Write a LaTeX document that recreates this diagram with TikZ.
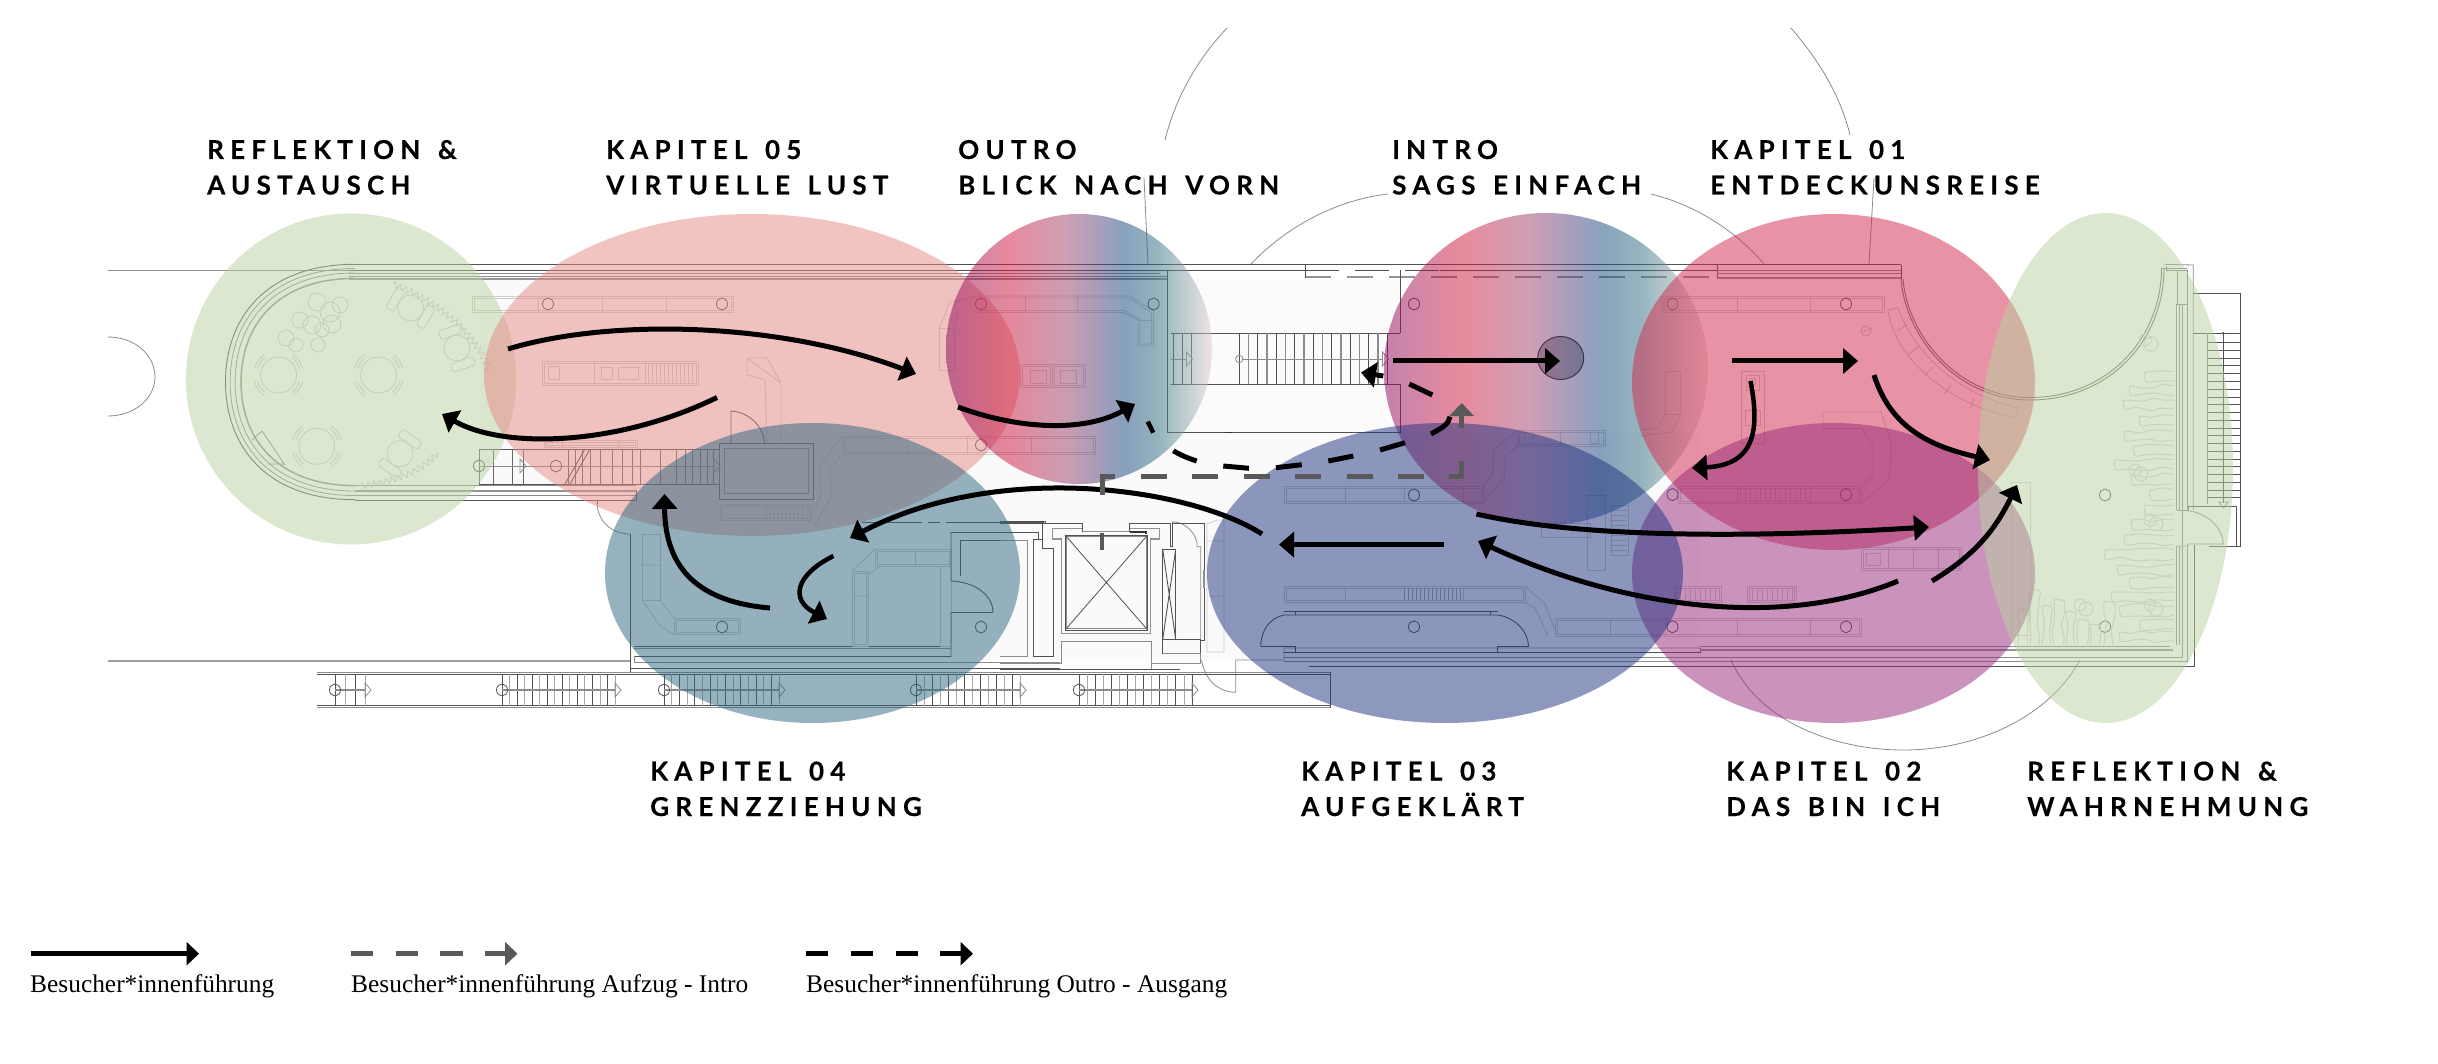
\documentclass[tikz,border=0pt]{standalone}
\usepackage{fontspec}
\usetikzlibrary{arrows.meta,decorations.pathmorphing,decorations.pathreplacing,calc}
\setmainfont{Liberation Serif}
\newfontfamily\ttlfont[LetterSpace=24,WordSpace=1.4,BoldFont={Lato Bold},BoldFeatures={FakeBold=0.4}]{Lato}
\definecolor{gA}{RGB}{185,209,159}
\definecolor{pA}{RGB}{229,137,133}
\definecolor{tA}{RGB}{45,103,127}
\definecolor{bA}{RGB}{31,51,129}
\definecolor{mA}{RGB}{151,41,123}
\definecolor{rA}{RGB}{211,41,77}
\definecolor{dashgray}{HTML}{595959}
\definecolor{pB0}{HTML}{8B075D}
\definecolor{pB1}{HTML}{D1173D}
\definecolor{pB2}{HTML}{9F416D}
\definecolor{pB3}{HTML}{41417F}
\definecolor{pB4}{HTML}{15477F}
\definecolor{pB5}{HTML}{2D6B7F}
\definecolor{pB6}{HTML}{77999F}
\definecolor{pB7}{HTML}{E5C9C9}
\pgfdeclarehorizontalshading{intrograd}{100bp}{
 color(0bp)=(pB0); color(25bp)=(pB0); color(36.7bp)=(pB1); color(47.5bp)=(pB2); color(55.2bp)=(pB3);
 color(58.3bp)=(pB4); color(64.5bp)=(pB5); color(69.1bp)=(pB6); color(75bp)=(pB7); color(100bp)=(pB7)}
\tikzset{
 pl/.style={draw=black!68,line width=0.9pt},
 plf/.style={draw=black!45,line width=0.8pt},
 plt/.style={draw=black!42,line width=1.5pt},
 bench/.style={draw=black!19,line width=0.9pt},
 seat/.style={draw=black!18,line width=0.9pt},
 plant/.style={draw=black!16,line width=1pt},
 zone/.style={fill opacity=.5},
 walk/.style={line width=5pt,draw=black,-{Triangle[length=15pt,width=25pt]}},
 walkp/.style={line width=5pt,draw=black},
 grayd/.style={line width=5pt,draw=dashgray},
 ttl/.style={anchor=base west,align=left,font=\ttlfont\bfseries\fontsize{26}{35.5}\selectfont,text=black,inner sep=0pt},
 leg/.style={anchor=base west,font=\fontsize{25.4}{30}\selectfont,inner sep=0pt}
}
\newcommand\bnch[4]{\draw[bench] (#1,#2) rectangle (#3,#4); \draw[bench] ({#1+2},{#2+2}) rectangle ({#3-2},{#4-2});}
\newcommand\colm[2]{\draw[pl,line width=0.8pt] (#1,#2) ellipse (5.5 and 6);}
\newcommand\stairtri[2]{\draw[plf] (#1,{#2-7}) -- ({#1+6},#2) -- (#1,{#2+7}) -- cycle;}
\begin{document}
\begin{tikzpicture}[x=1pt,y=-1pt]
\useasboundingbox (0,0) rectangle (2438,1064);
\fill[white] (0,0) rectangle (2438,1064);
% ---- floor tint
\fill[black!2] (480,279) rectangle (1167,486) (1000,486) rectangle (1240,660) (630,486) rectangle (1000,660) (1167,433) rectangle (1700,660);
\fill[cyan!1!black!2] (1167,279) rectangle (1400,433);
% ---- construction arcs
\draw[plf] (1227,28) .. controls (1195,62) and (1175,100) .. (1165,140);
\draw[plf] (1144,178) -- (1148,264);
\draw[plf] (1251,264) .. controls (1285,228) and (1335,200) .. (1388,194);
\draw[plf] (1651,194) .. controls (1695,205) and (1735,230) .. (1764,264);
\draw[plf] (1791,28) .. controls (1820,62) and (1840,95) .. (1850,135);
\draw[plf] (1874,178) -- (1869,264);
\draw[plf] (1731,660) .. controls (1760,725) and (1840,750) .. (1903,750) .. controls (1980,750) and (2050,715) .. (2080,660);
\draw[plf] (108,337) .. controls (135,337) and (155,355) .. (155,377) .. controls (155,398) and (135,416) .. (108,416);
% ---- long outer lines
\draw[plf] (108,270) -- (349,270);
\draw[draw=black!38,line width=2pt] (108,660.7) -- (630,660.7);
\draw[pl] (349,264.6) -- (1901,264.6);
\draw[pl] (349,270) -- (1305,270);
\draw[plf] (349,273) -- (1160,273);
\draw[plf] (349,276) -- (1167,276);
\draw[plt] (349,279) -- (1167,279);
\draw[pl,dash pattern=on 34pt off 16pt] (1305,270) -- (1440,270);
\draw[plt,dash pattern=on 26pt off 16pt] (1305,277) -- (1717,277);
\draw[pl] (1440,270) -- (1717,270);
\draw[pl] (1305,264.6) -- (1305,278) (1717.6,264.6) -- (1717.6,278);
\draw[plf] (1717,270) -- (1901,270) (1717,273.5) -- (1901,273.5);
\draw[plt] (1717,278) -- (1901,278);
\draw[pl] (1901,264.6) -- (1901,279);
% ---- rounded left end
\foreach \r/\s in {117.7/pl,113.5/plf,109/plf,103.6/plt}{
 \draw[\s] (355,{382-\r}) .. controls ({355-0.75*\r},{382-\r}) and ({355-1.1*\r},{382-0.55*\r}) .. ({355-1.1*\r},382) .. controls ({355-1.1*\r},{382+0.55*\r}) and ({355-0.75*\r},{382+\r}) .. (355,{382+\r});
}
\draw[plf] (252,440) -- (262,431) (262,431) -- (285,465) (268,464) -- (285,464);
\draw[plf] (355,485.7) -- (636,485.7);
\draw[plt] (355,491) -- (636,491);
\draw[plf] (355,495.7) -- (636,495.7);
\draw[pl] (355,500) -- (636,500) -- (636,490);
% ---- seating in the round room
\foreach \x/\y in {278.6/375,378.7/375,316.8/446.4}{
 \draw[seat] (\x,\y) circle (18);
 \foreach \a in {35,145,215,325}{
  \draw[seat] ($(\x,\y)+(\a-20:25)$) arc[start angle=\a-20,end angle=\a+20,radius=25];
  \draw[seat] ($(\x,\y)+(\a-18:22)$) arc[start angle=\a-18,end angle=\a+18,radius=22];
 }
}
\foreach \x/\y/\a in {410.6/308/-30,457/348/-70,400/453.6/55}{
 \begin{scope}[shift={(\x,\y)},rotate=\a]
 \draw[seat] (0,0) circle (13);
 \draw[seat,rounded corners=3] (-22,-12) rectangle (-13,12);
 \draw[seat,rounded corners=3] (13,-12) rectangle (22,12);
 \end{scope}
}
\foreach \x/\y/\r in {317/302/9,330/312/10,312/325/9,300/320/8,322/330/7,332/324/9,340/305/8,286/338/8,296/345/7,318/345/7}{
 \draw[seat] (\x,\y) circle (\r);
}
\draw[seat,decorate,decoration={zigzag,segment length=6,amplitude=3}] (393,284) .. controls (435,300) and (475,330) .. (489,371);
\draw[seat,decorate,decoration={zigzag,segment length=6,amplitude=3}] (361,486) .. controls (395,482) and (425,470) .. (438,452);
% ---- benches
\bnch{472}{296}{733}{312.5}
\foreach \x in {538,602.5,666}{\draw[bench] (\x,296) -- (\x,312.5);}
\colm{548}{304}\colm{722}{304}
% kitchen 05
\bnch{542.6}{361}{698}{385}
\draw[bench] (594,361) -- (594,385) (645,361) -- (645,385);
\foreach \x in {648,652,656,660,664,668,672,676,680,684,688,692}{\draw[bench,line width=.7pt] (\x,364) -- (\x,383);}
\draw[bench] (601,367) rectangle (612,379) (618,367) rectangle (638,379) (548,366) rectangle (559,379);
% bent bench 05
\draw[bench] (747,358) -- (781,383) -- (781,443) (747,358) -- (747,375) -- (765,380) -- (767,443) (747,358) -- (767,358) -- (781,383);
% door and room
\draw[pl] (719,443) rectangle (813,499);
\draw[plf] (724,448) rectangle (808,493.5);
\draw[pl] (731,443) -- (731,411) .. controls (750,412) and (764,428) .. (764.5,443);
\bnch{544.5}{440}{637}{447}
\draw[bench] (562,440) -- (562,447) (618,440) -- (618,447);
\draw[pl] (479,449) -- (719,449) (479,484.6) -- (719,484.6);
\foreach \x in {479,493,512,523,568,575,582,590,600,612,622,632,640,660,676,685,692,700,707,713,719}{\draw[plf,draw=black!60] (\x,449) -- (\x,484.6);}
\draw[plf] (479,466) -- (715,466);
\colm{479}{466}\colm{556}{466}
\stairtri{520}{466}\stairtri{714}{466}
\draw[pl] (565,484) -- (585,449);
\draw[pl] (570,484) -- (590,449);
% door arc
\draw[plf] (597,503.6) .. controls (598,520) and (610,534) .. (630.6,534);
\draw[pl] (597,500) -- (597,504);
\draw[pl] (630.6,534) -- (630.6,672);
\draw[pl] (630.6,668.6) -- (1060,668.6);
\draw[pl] (634,646) -- (951,646) (634,656) -- (951,656);
\draw[plf,line width=1.4pt] (634,648.5) -- (951,648.5);
\draw[plf] (634,656) -- (634,662.5) -- (1060,662.5);
% bench going to the right
\bnch{843}{436}{1095}{454}
\foreach \x in {907,967,1031}{\draw[bench] (\x,436) -- (\x,454);}
\draw[bench] (843,436) -- (820,465) -- (821,495) -- (807,525) (843,454) -- (830,468) -- (831,497) -- (815,525);
\bnch{720}{504.6}{811}{520}
\foreach \x in {766,770,774,778,782,786,790,794,798,802}{\draw[bench,line width=.7pt] (\x,506) -- (\x,518);}
\colm{981}{445}
% teal zone benches
\draw[bench] (642,534.6) rectangle (660,600);
\draw[bench] (642,600) -- (660,626) -- (674,634.6) (660,600) -- (674,618) (642,565) -- (660,565);
\bnch{674}{618}{740}{634.6}
\colm{722}{627}
\bnch{852}{571}{868}{646}
\draw[bench] (852,571) -- (875,549) (868,575) -- (880,566) (852,596) -- (868,596);
\bnch{875}{549}{951}{566}
\draw[bench] (915,549) -- (915,566);
\draw[bench] (940,566) rectangle (951,646);
% wall and door
\draw[pl,line width=1pt] (951,532) -- (1038,532) -- (1038,540);
\draw[pl] (951,532) -- (951,581) .. controls (975,582) and (993,595) .. (993,612.5) -- (951,612.5) -- (951,657);
\draw[pl] (960,540) -- (960,576);
\draw[pl] (960,540) -- (1027,540);
\colm{981}{627}
\draw[plf] (1010,540) -- (1027,540) -- (1027,656);
\draw[pl,dash pattern=on 60pt off 6pt on 12pt off 6pt on 20pt off 6pt] (862,522) -- (960,522);
\draw[pl] (960,522) -- (1044,522);
% elevator group
\draw[pl] (1000,521.7) -- (1045.6,521.7) -- (1045.6,524) (1000,523.3) -- (1042.7,523.3) -- (1042.7,548.3) -- (1053.3,548.3) -- (1053.3,656.7) -- (1033.3,656.7) -- (1033.3,539.3) -- (1042.7,539.3);
\draw[plf] (1000,540.7) -- (1027.3,540.7) -- (1027.3,656.7) -- (1000,656.7);
\draw[plf] (1000,663.3) -- (1061.7,663.3) -- (1061.7,641.7) -- (1151,641.7) -- (1151,669.3);
\draw[plt] (1052.7,528.3) -- (1082.7,528.3) -- (1082.7,531.7) -- (1129.7,531.7) -- (1129.7,528.3) -- (1159.3,528.3) -- (1159.3,539) -- (1150.7,539) -- (1150.7,633.3) -- (1061.7,633.3) -- (1061.7,539) -- (1052.7,539) -- cycle;
\draw[pl] (1065,535) rectangle (1147.7,630);
\draw[plf] (1066.7,536.7) rectangle (1146,628.3);
\draw[pl,line width=.8pt] (1065,535) -- (1147.7,630) (1147.7,535) -- (1065,630);
\draw[dashgray,line width=4.5pt] (1102,533) -- (1102,550);
\draw[pl] (1042.7,523.3) -- (1082.7,523.3) -- (1082.7,531.7) (1129.7,531.7) -- (1129.7,523.3) -- (1170,523.3) -- (1170,546.7) -- (1172.7,546.7) -- (1172.7,521.7);
\draw[black!80,line width=2pt] (1129.7,531.7) -- (1146,531.7) -- (1146,534);
\draw[plf] (1172.7,521.7) .. controls (1187,522) and (1196,535) .. (1197,543.3) -- (1197,546.7) -- (1200.7,546.7) -- (1200.7,639.3);
\draw[pl] (1172.7,523.3) -- (1204,523.3) -- (1204,640) -- (1200,640);
\draw[plf,line width=1.5pt] (1204,570) -- (1204,588);
\draw[pl] (1162.7,639.3) rectangle (1175.7,549.3);
\draw[pl] (1162.7,549.3) -- (1175.7,639.3) (1175.7,549.3) -- (1162.7,639.3);
\draw[pl] (1162.7,639.3) -- (1200,639.3) -- (1200,653.3) -- (1162.7,653.3) -- (1162.7,639.3);
\draw[plf] (1162.7,653.3) -- (1200.7,653.3) -- (1200.7,663.3) -- (1151,663.3);
\draw[pl,dash pattern=on 210pt off 24pt on 24pt off 10pt on 50pt off 22pt on 55pt] (1000,669.3) -- (1180,669.3);
\draw[plf] (1201.5,660) .. controls (1205,680) and (1218,692) .. (1235.7,692.3) -- (1235.7,660) -- (1284,660) -- (1284,648) -- (1700,648);
\draw[bench] (1207,524) -- (1217,520) -- (1224,520) -- (1224,652) -- (1207,652) -- cycle (1207,541) -- (1224,541) (1207,596) -- (1224,596);
% lower stairs
\draw[plf,draw=black!45] (317,672) -- (1330,672);
\draw[pl] (317,674) -- (1330,674);
\draw[pl] (317,705.7) -- (1330,705.7);
\draw[plf] (317,707.5) -- (1330,707.5);
\draw[pl] (1330,672) -- (1330,707.5);
\foreach \a/\b/\n in {335/365/3,502/615/15,664/779/15,916/1020/13,1079/1192/14}{
 \pgfmathsetmacro{\st}{(\b-\a)/\n}
 \foreach \i in {0,...,\n}{
  \pgfmathsetmacro{\xx}{\a+\i*\st}
  \pgfmathparse{int(mod(\i,2))}
  \ifnum\pgfmathresult=0 \draw[pl] (\xx,674) -- (\xx,705.7);\else \draw[plf,draw=black!35] (\xx,674) -- (\xx,705.7);\fi
 }
 \draw[plf,line width=1.2pt] (\a,690) -- (\b,690);
 \stairtri{\b}{690}
 \colm{\a}{690}
}
% outro zone
\draw[bench] (939,328.6) rectangle (954.6,370);
\draw[bench] (939,328.6) -- (950,302) -- (980,296) (954.6,328.6) -- (958,312) -- (980,312);
\draw[bench] (980,296) -- (1130,296) -- (1153.6,311) -- (1153.6,346) -- (1138,346) -- (1138,320) -- (1123,312.5) -- (980,312.5) -- cycle;
\draw[bench] (982,298) -- (1129,298) -- (1151.6,313) -- (1151.6,344) -- (1140,344) -- (1140,319) -- (1124,310.5) -- (982,310.5) -- cycle;
\foreach \x in {1025,1077}{\draw[bench] (\x,296) -- (\x,312.5);}
\draw[bench] (1138,320) -- (1153.6,320);
\colm{981}{304}\colm{1153.6}{304}
\bnch{1020}{364}{1052}{387.5}
\bnch{1052}{364}{1085}{387.5}
\draw[bench] (1030,370) rectangle (1046,383) (1060,370) rectangle (1076,383);
% central stair room
\draw[pl] (1167.3,270) -- (1167.3,432.7) -- (1400.7,432.7) -- (1400.7,384.3);
\draw[pl] (1400.7,270) -- (1400.7,333.3);
\draw[plt,draw=black!80] (1225,432.7) -- (1232,432.7);
\draw[pl] (1170.7,333.3) -- (1400,333.3) (1170.7,384.3) -- (1400,384.3);
\draw[pl] (1387,333.3) -- (1387,384.3);
\foreach \x in {1173.3,1182.3,1191.7,1239.3}{\draw[pl] (\x,333.3) -- (\x,384.3);}
\foreach \i in {1,...,15}{
 \pgfmathsetmacro{\xx}{1239.3+\i*9.25}
 \pgfmathparse{int(mod(\i,2))}
 \ifnum\pgfmathresult=1 \draw[plf,line width=1.2pt] (\xx,333.3) -- (\xx,384.3);\else \draw[pl] (\xx,333.3) -- (\xx,384.3);\fi
}
\draw[plf] (1170.7,359) -- (1186,359) (1242,359) -- (1383,359);
\stairtri{1186.5}{359}\stairtri{1382.5}{359}
\draw[plf] (1239.3,359) circle (3.7);
\colm{1414}{304}
% intro stage disc
\draw[fill=black!33,draw=black!85,line width=1pt] (1560.7,358) ellipse (23 and 21.5);
% K01 benches
\bnch{1662.5}{296}{1884}{312.5}
\foreach \x in {1737.5,1810}{\draw[bench] (\x,296) -- (\x,312.5);}
\colm{1672.5}{304}\colm{1846}{304}
\draw[bench] (1888,310) -- (1898,308) .. controls (1915,355) and (1960,395) .. (2018,408) -- (2015,418) .. controls (1950,405) and (1895,360) .. (1888,310);
\foreach \a/\b/\c/\d in {1897/331/1907/325,1909/354/1919/346,1925/375/1933/367,1945/394/1951/385,1970/408/1974/398,1994/413/1996/403}{\draw[bench] (\a,\b) -- (\c,\d);}
\draw[bench] (1866,331) circle (5);
\draw[bench] (1860,332) -- (1873,328);
\draw[pl,draw=black!55] (1901,279) .. controls (1905,335) and (1955,400) .. (2030,400) .. controls (2110,400) and (2164,340) .. (2164,268);
\draw[pl,draw=black!55] (1903,279) .. controls (1907,333) and (1956,397.5) .. (2030,397.5) .. controls (2108,397.5) and (2161.5,338) .. (2161.5,268);
% inner benches mid
\draw[bench] (1665,371) rectangle (1680,414);
\draw[bench] (1680,414) -- (1672,432) -- (1640,436) (1665,414) -- (1658,428) -- (1640,430);
\draw[bench] (1741,371) rectangle (1764,443) (1746,375) rectangle (1759,390) (1745,410) rectangle (1760,425) (1750,378) rectangle (1755,384);
\bnch{1517}{430}{1605}{446.5}
\draw[bench] (1525,430) rectangle (1533,443) (1590,432) rectangle (1598,443) (1560,430) -- (1560,446.5);
\draw[bench] (1517,430) -- (1494,450) -- (1492,475) -- (1483,486.4) (1517,446.5) -- (1506,455) -- (1504,478) -- (1483,503.6);
\bnch{1284}{486.4}{1483}{503.6}
\foreach \x in {1345,1404,1463}{\draw[bench] (\x,486.4) -- (\x,503.6);}
\colm{1414}{495}
\draw[bench] (1587.5,495.7) rectangle (1605,570);
\draw[bench] (1611,505) rectangle (1628,555);
\foreach \y in {510,515,520,525,530,535,540,545,550}{\draw[bench,line width=.7pt] (1612,\y) -- (1627,\y);}
\draw[bench] (1541.6,523) rectangle (1590,537.5);
% K02 benches
\bnch{1678}{486.4}{1861}{503.6}
\foreach \x in {1737.5,1810}{\draw[bench] (\x,486.4) -- (\x,503.6);}
\foreach \x in {1740,1745,1750,1755,1760,1765,1770,1775,1780,1785,1790,1795,1800,1805}{\draw[bench,line width=.7pt] (\x,488) -- (\x,502);}
\colm{1672.5}{494.6}\colm{1846}{494.6}
\draw[bench] (1861,503.6) -- (1889,480) -- (1892,446) -- (1881,412) -- (1862,412) -- (1823,412) -- (1823,428.6) -- (1862,428.6) -- (1873,446) -- (1873,475) -- (1861,487);
\bnch{1861.5}{547}{1961}{570}
\foreach \x in {1888,1913,1938}{\draw[bench] (\x,547) -- (\x,570);}
\draw[bench] (1866,553) rectangle (1880,565);
\bnch{1674}{586}{1721}{602}
\bnch{1747}{586}{1796}{602}
\foreach \x in {1680,1685,...,1716,1752,1757,...,1792}{\draw[bench,line width=.7pt] (\x,588) -- (\x,600);}
% K03 lower
\bnch{1284}{586}{1525}{602.5}
\foreach \x in {1345,1404,1463}{\draw[bench] (\x,586) -- (\x,602.5);}
\foreach \x in {1404,1408,...,1462}{\draw[bench,line width=.9pt,draw=black!32] (\x,588) -- (\x,600);}
\draw[bench] (1525,586) -- (1545,604) -- (1555,630) (1525,602.5) -- (1535,608) -- (1548,636);
\bnch{1555}{618.6}{1861.5}{636.4}
\foreach \x in {1610,1665,1737.5,1810}{\draw[bench] (\x,618.6) -- (\x,636.4);}
\colm{1672.5}{626.8}\colm{1846}{626.8}
\draw[pl] (1260.7,646.4) .. controls (1261,630) and (1270,618) .. (1283.7,615) -- (1498,615) .. controls (1516,618) and (1528,632) .. (1528.6,646.4);
\draw[pl] (1284,611.5) -- (1498,611.5) (1295,611.5) -- (1295,615) (1490,611.5) -- (1490,615);
\draw[pl] (1260.7,646.4) -- (1295,646.4) -- (1295,652) (1528.6,646.4) -- (1497,646.4) -- (1497,652);
\colm{1414}{626.8}
% bottom long lines
\draw[pl] (1284,652) -- (1700,652) -- (1700,647.5);
\draw[plf] (1700,646.8) -- (2170,646.8);
\draw[plt] (1700,650) -- (2173,650);
\draw[plf] (1284,657) -- (2182,657) -- (2182,500);
\draw[plf] (1284,661) -- (2187,661) -- (2187,545);
\draw[pl] (1309,666.7) -- (2194,666.7) -- (2194,545);
% ---- right end
\draw[plf] (2164,264.3) -- (2193.3,265) -- (2193.3,510);
\draw[plf] (2162,268) -- (2187,268) (2166,266) -- (2166,270) -- (2187,270);
\draw[plf] (2177.7,270) rectangle (2187.3,304);
\draw[plf,line width=1.2pt] (2176.7,304) -- (2176.7,510);
\draw[plf] (2179,304) -- (2179,510) (2182.7,304) -- (2182.7,510) (2187,304) -- (2187,510);
\draw[pl] (2193.3,293.3) -- (2240.7,293.3) -- (2240.7,546) -- (2209,546);
\draw[pl] (2193.3,333.3) -- (2240.7,333.3);
\draw[plf] (2207.3,333.3) -- (2207.3,504);
\foreach \i in {0,...,20}{\draw[pl] ({2207.3},{342.7+\i*7.75}) -- (2240.7,{342.7+\i*7.75});}
\draw[pl] (2223.3,333.3) -- (2223.3,503);
\fill[black!70] (2223.3,333.3) circle (1.4);
\draw[plf] (2219,502) -- (2228,502) -- (2223.5,508) -- cycle;
\draw[pl] (2188,506) -- (2236.7,506) -- (2236.7,546);
\draw[plf] (2186.7,510.7) .. controls (2207,512) and (2223,528) .. (2223.3,544) -- (2188,544) -- (2188,546) -- (2176.7,546);
\draw[plf] (2176.7,510) -- (2188,510) -- (2188,506);
\draw[plf] (2176.7,546) -- (2176.7,645) (2179,546) -- (2179,645) (2182,546) -- (2182,655) (2187,546) -- (2187,660);
\colm{2105}{495}\colm{2105}{626.7}
% planting
\pgfmathsetseed{42}
\foreach \y/\x in {372/2145,386/2130,400/2124,416/2140,431/2125,446/2134,460/2115,475/2132,490/2150,505/2145,520/2132,535/2125,550/2105,565/2118,578/2130,592/2112,606/2120,620/2140,632/2120}{
 \draw[plant,decorate,decoration={random steps,segment length=11,amplitude=2.5},rounded corners=3pt] (2174,\y) -- (\x,\y) -- (\x,{\y+9}) -- (2174,{\y+9});
}
\foreach \x/\y in {2018/610,2030/590,2042/606,2054/600,2066/612,2078/620,2090/625,2104/602}{
 \draw[plant,decorate,decoration={random steps,segment length=11,amplitude=2.5},rounded corners=3pt] (\x,645) -- (\x,\y) -- ({\x+9},\y) -- ({\x+9},645);
}
\foreach \x/\y in {2145/340,2135/470,2150/520,2080/605,2150/605}{\draw[plant] (\x,\y) circle (6) ({\x+6},{\y+4}) circle (7);}
\draw[bench,draw=black!16] (2011,482) rectangle (2030,635);
% ---- colour zones
\fill[gA,zone] (351,379) ellipse (165 and 165.5);
\fill[pA,zone] (752,375) ellipse (268 and 161);
\shade[shading=intrograd,zone] (1079,349) ellipse (133 and 135);
\fill[tA,zone] (812.5,573) ellipse (207.5 and 150);
\shade[shading=intrograd,zone] (1546,369) ellipse (162 and 156);
\fill[rA,zone] (1833.5,382) ellipse (201.5 and 168);
\fill[mA,zone] (1833.5,573) ellipse (201.5 and 150);
\fill[bA,zone] (1445,573) ellipse (238 and 150);
\fill[gA,zone] (2105.5,468) ellipse (127.5 and 255);
% ---- visitor routes
\coordinate (a1s) at (508,349);\coordinate (a1e) at (916,374);
\draw[walk] (a1s) .. controls (610,318) and (780,322) .. (a1e);
\coordinate (a2s) at (717,397.5);\coordinate (a2e) at (442,414);
\draw[walk] (a2s) .. controls (620,445) and (505,450) .. (a2e);
\coordinate (a3s) at (958,407);\coordinate (a3e) at (1135,404);
\draw[walk] (a3s) .. controls (1020,430) and (1085,432) .. (a3e);
\coordinate (a4s) at (1262,534);\coordinate (a4e) at (850,538);
\draw[walk] (a4s) .. controls (1190,488) and (1000,460) .. (a4e);
\coordinate (a5s) at (770,608);\coordinate (a5e) at (664.5,494);
\draw[walk] (a5s) .. controls (700,602) and (665,570) .. (a5e);
\coordinate (a6s) at (833.4,556);\coordinate (a6e) at (827,619);
\draw[walk,line width=4.5pt] (a6s) .. controls (795,575) and (790,600) .. (a6e);
\coordinate (a7s) at (1444,544.6);\coordinate (a7e) at (1279,544.6);
\draw[walk] (a7s) -- (a7e);
\coordinate (a8s) at (1393,361);\coordinate (a8e) at (1560,361);
\draw[walk] (a8s) -- (a8e);
\coordinate (a9s) at (1732,361);\coordinate (a9e) at (1858,361);
\draw[walk] (a9s) -- (a9e);
\coordinate (a10s) at (1750.5,381);\coordinate (a10e) at (1692,468);
\draw[walk,line width=4.5pt] (a10s) .. controls (1760,430) and (1755,465) .. (a10e);
\coordinate (a11s) at (1874,375);\coordinate (a11e) at (1990,460);
\draw[walk] (a11s) .. controls (1890,425) and (1925,445) .. (a11e);
\coordinate (a12s) at (1476.5,514);\coordinate (a12e) at (1929,527);
\draw[walk] (a12s) .. controls (1580,538) and (1750,538) .. (a12e);
\coordinate (a13s) at (1898,581);\coordinate (a13e) at (1478,541);
\draw[walk] (a13s) .. controls (1780,630) and (1620,607) .. (a13e);
\coordinate (a14s) at (1932,581);\coordinate (a14e) at (2017,485);
\draw[walk] (a14s) .. controls (1975,555) and (1995,530) .. (a14e);
% lift route (grey dashed)
\coordinate (g0) at (1102,495);\coordinate (g1) at (1102,476.7);\coordinate (g1b) at (1115,476.7);\coordinate (g3) at (1461.7,461);\coordinate (g4) at (1461.7,403);
\draw[grayd] (g0) -- (g1) -- (g1b);
\draw[grayd,dash pattern=on 26pt off 25.5pt] (1140.7,476.7) -- (1461.7,476.7);
\draw[grayd] (1449.3,476.7) -- (1461.7,476.7) -- (g3);
\draw[grayd,-{Triangle[length=13pt,width=24pt]}] (1461.7,428) -- (g4);
% outro route (black dashed)
\draw[walkp,line width=4.5pt] (1147.7,421.7) -- (1153.3,432.7);
\draw[walkp] (1173.3,450.7) .. controls (1180,455) and (1190,459) .. (1196.7,461);
\draw[walkp] (1223.3,466) -- (1249,468.3);
\draw[walkp] (1276,467.7) -- (1301.7,464.7);
\draw[walkp] (1328.3,461) -- (1353.3,456);
\draw[walkp] (1380,450) -- (1405,442.7);
\draw[walkp] (1431,434) .. controls (1442,428) and (1449,424) .. (1450,416.7);
\draw[walkp] (1409.3,384) -- (1432.3,395);
\coordinate (o1) at (1383.3,376);\coordinate (o2) at (1361,372.5);
\draw[walk] (o1) -- (o2);
% ---- titles
\node[ttl] (t1) at (207,194.5) {REFLEKTION \&\\AUSTAUSCH};
\node[ttl] (t2) at (606,194.5) {KAPITEL 05\\VIRTUELLE LUST};
\node[ttl] (t3) at (958,194.5) {OUTRO\\BLICK NACH VORN};
\node[ttl] (t4) at (1392,194.5) {INTRO\\SAGS EINFACH};
\node[ttl] (t5) at (1710,194.5) {KAPITEL 01\\ENTDECKUNSREISE};
\node[ttl] (t6) at (650,816) {KAPITEL 04\\GRENZZIEHUNG};
\node[ttl] (t7) at (1301,816) {KAPITEL 03\\AUFGEKLÄRT};
\node[ttl] (t8) at (1726,816) {KAPITEL 02\\DAS BIN ICH};
\node[ttl] (t9) at (2027,816) {REFLEKTION \&\\WAHRNEHMUNG};
% ---- legend
\coordinate (l1s) at (30.7,953.7);\coordinate (l1e) at (199,953.7);
\draw[walk,-{Triangle[length=12.5pt,width=23pt]}] (l1s) -- (l1e);
\coordinate (l2s) at (350.7,953.7);\coordinate (l2e) at (517.5,953.7);
\draw[grayd,dash pattern=on 22.4pt off 22.4pt] (l2s) -- (505,953.7);
\draw[grayd,-{Triangle[length=12.5pt,width=23pt]}] (485,953.7) -- (l2e);
\coordinate (l3s) at (806,953.7);\coordinate (l3e) at (973,953.7);
\draw[walkp,dash pattern=on 22.4pt off 22.4pt] (l3s) -- (960,953.7);
\draw[walk,-{Triangle[length=12.5pt,width=23pt]}] (941,953.7) -- (l3e);
\node[leg] (n1) at (30,992) {Besucher*innenführung};
\node[leg] (n2) at (351,992) {Besucher*innenführung Aufzug - Intro};
\node[leg] (n3) at (806,992) {Besucher*innenführung Outro - Ausgang};
\end{tikzpicture}
\end{document}
